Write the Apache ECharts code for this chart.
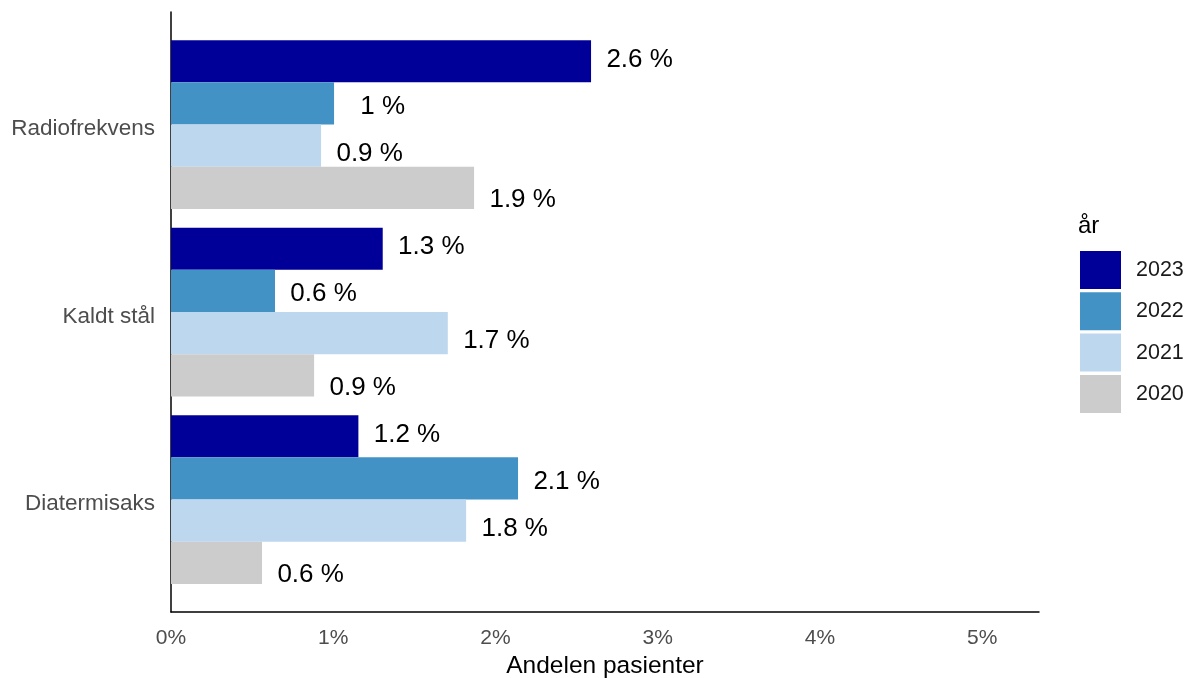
<!DOCTYPE html>
<html>
<head>
<meta charset="utf-8">
<script src="https://cdn.jsdelivr.net/npm/echarts@6/dist/echarts.min.js"></script>
<style>
html,body{margin:0;padding:0;background:#fff;}
#chart{width:1189px;height:678px;}
</style>
</head>
<body>
<div id="chart"></div>
<script>
// Data
const categories = ['Radiofrekvens', 'Kaldt stål', 'Diatermisaks'];
const years = ['2023', '2022', '2021', '2020'];
const values2023 = [2.589, 1.305, 1.155];
const values2022 = [1.005, 0.641, 2.139];
const values2021 = [0.925, 1.706, 1.819];
const values2020 = [1.868, 0.882, 0.561];
const xTickLabels = ['0%', '1%', '2%', '3%', '4%', '5%'];

const seriesValues = [values2023, values2022, values2021, values2020];
const colors = ['#000099', '#4292C6', '#BDD7EE', '#CCCCCC'];
const labelDy = [-1.5, 3, 7.8, 12.5];
const FONT = '"Liberation Sans", Arial, sans-serif';
const XMAX = 5.35;

const chart = echarts.init(document.getElementById('chart'), null, {renderer: 'canvas'});

const series = years.map((y, i) => ({
  name: y,
  type: 'bar',
  xAxisIndex: 0,
  yAxisIndex: 0,
  data: seriesValues[i],
  barGap: '0%',
  barCategoryGap: '10%',
  itemStyle: {color: colors[i]},
  label: {
    show: true,
    position: 'right',
    distance: 48.6,
    align: 'center',
    verticalAlign: 'middle',
    offset: [0, labelDy[i]],
    fontFamily: FONT,
    fontSize: 26,
    color: '#000',
    formatter: p => parseFloat(p.value.toFixed(1)) + ' %'
  },
  emphasis: {disabled: true},
  animation: false
}));

chart.setOption({
  animation: false,
  backgroundColor: '#fff',
  textStyle: {fontFamily: FONT},
  title: {
    text: 'år',
    left: 1078,
    top: 214,
    padding: 0,
    textStyle: {fontFamily: FONT, fontSize: 24, fontWeight: 'normal', color: '#000'}
  },
  legend: {
    data: years,
    orient: 'vertical',
    left: 1080,
    top: 251,
    padding: 0,
    itemWidth: 41,
    itemHeight: 38,
    itemGap: 3.3,
    icon: 'rect',
    textStyle: {fontFamily: FONT, fontSize: 21.5, color: '#1a1a1a', padding: [0, 0, 0, 10]}
  },
  grid: [
    {left: 171, right: 150, top: 30.75, height: 562.5, containLabel: false, outerBoundsMode: 'none'},
    {left: 171, right: 150, top: 12, height: 600, containLabel: false, outerBoundsMode: 'none'}
  ],
  xAxis: [
    {gridIndex: 0, type: 'value', min: 0, max: XMAX, show: false},
    {
      gridIndex: 1, type: 'value', min: 0, max: XMAX, interval: 1,
      axisLine: {show: true, onZero: false, lineStyle: {color: '#000', width: 1.5}},
      axisTick: {show: false},
      splitLine: {show: false},
      axisLabel: {
        showMaxLabel: false,
        margin: 16,
        fontFamily: FONT, fontSize: 21, color: '#4d4d4d',
        formatter: v => (Number.isInteger(v) && xTickLabels[v] !== undefined) ? xTickLabels[v] : ''
      },
      name: 'Andelen pasienter',
      nameLocation: 'middle',
      nameGap: 41,
      nameTextStyle: {fontFamily: FONT, fontSize: 24.5, color: '#000'}
    }
  ],
  yAxis: [
    {
      gridIndex: 0, type: 'category', data: categories, inverse: true,
      axisLine: {show: false}, axisTick: {show: false}, splitLine: {show: false},
      axisLabel: {margin: 16, fontFamily: FONT, fontSize: 22.5, color: '#4d4d4d', verticalAlign: 'top', lineHeight: 9}
    },
    {
      gridIndex: 1, type: 'value', min: 0, max: 1,
      axisLine: {show: true, onZero: false, lineStyle: {color: '#000', width: 1.5}},
      axisTick: {show: false}, splitLine: {show: false}, axisLabel: {show: false}
    }
  ],
  series: series
});
</script>
</body>
</html>
